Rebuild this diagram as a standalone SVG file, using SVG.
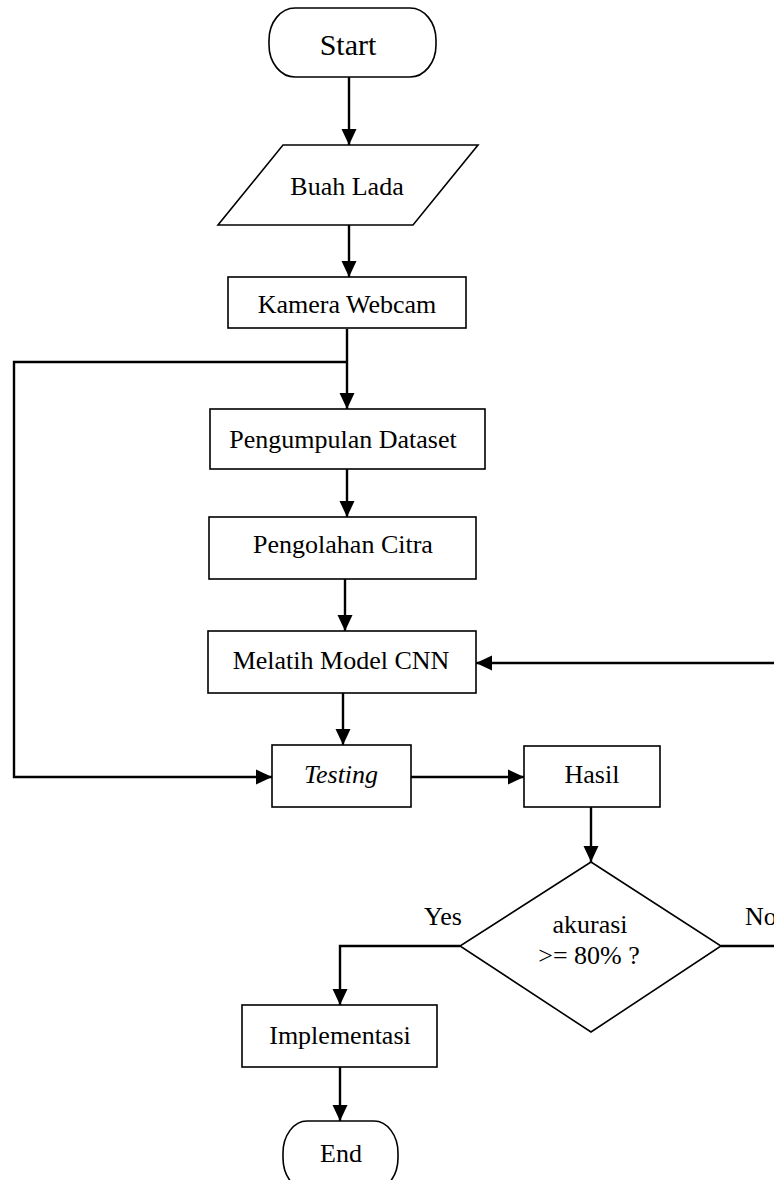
<svg xmlns="http://www.w3.org/2000/svg" width="774" height="1180" viewBox="0 0 774 1180">
  <style>
    .shape { fill: #ffffff; stroke: #000000; stroke-width: 1.6; }
    .wire { fill: none; stroke: #000000; stroke-width: 2.4; }
    .lbl { font-family: "Liberation Serif", "Times New Roman", serif; font-size: 26px; fill: #000000; text-anchor: middle; }
  </style>
  <defs>
    <marker id="head" markerUnits="userSpaceOnUse" markerWidth="16" markerHeight="16" refX="16" refY="8" orient="auto">
      <path d="M0,0.5 L16,8 L0,15.5 z" fill="#000000"/>
    </marker>
  </defs>

  <rect width="774" height="1180" fill="#ffffff"/>

  <!-- connectors -->
  <g id="connectors">
    <path class="wire" d="M349,77 V145" marker-end="url(#head)"/>
    <path class="wire" d="M349,225 V277" marker-end="url(#head)"/>
    <path class="wire" d="M347,329 V409" marker-end="url(#head)"/>
    <path class="wire" d="M347,362 H14 V777 H272" marker-end="url(#head)"/>
    <path class="wire" d="M347,469 V517" marker-end="url(#head)"/>
    <path class="wire" d="M345,579 V631" marker-end="url(#head)"/>
    <path class="wire" d="M343,693 V745" marker-end="url(#head)"/>
    <path class="wire" d="M411,777 H524" marker-end="url(#head)"/>
    <path class="wire" d="M591,807 V862" marker-end="url(#head)"/>
    <path class="wire" d="M460,946 H340 V1005" marker-end="url(#head)"/>
    <path class="wire" d="M340,1067 V1121" marker-end="url(#head)"/>
    <path class="wire" d="M721,946 H790"/>
    <path class="wire" d="M790,663 H476" marker-end="url(#head)"/>
  </g>

  <g id="start">
    <rect class="shape" x="269" y="8" width="167" height="69" rx="26" ry="32"/>
    <text class="lbl" x="348" y="55" style="font-size:30px">Start</text>
  </g>

  <g id="buah-lada">
    <polygon class="shape" points="283,145 478,145 413,225 218,225"/>
    <text class="lbl" x="347" y="195">Buah Lada</text>
  </g>

  <g id="kamera-webcam">
    <rect class="shape" x="228" y="277" width="238" height="51"/>
    <text class="lbl" x="347" y="313">Kamera Webcam</text>
  </g>

  <g id="pengumpulan-dataset">
    <rect class="shape" x="210" y="409" width="275" height="60"/>
    <text class="lbl" x="343" y="448">Pengumpulan Dataset</text>
  </g>

  <g id="pengolahan-citra">
    <rect class="shape" x="209" y="517" width="267" height="62"/>
    <text class="lbl" x="343" y="553">Pengolahan Citra</text>
  </g>

  <g id="melatih-model">
    <rect class="shape" x="208" y="631" width="268" height="62"/>
    <text class="lbl" x="341" y="669">Melatih Model CNN</text>
  </g>

  <g id="testing">
    <rect class="shape" x="272" y="745" width="139" height="62"/>
    <text class="lbl" x="341" y="783" style="font-style:italic">Testing</text>
  </g>

  <g id="hasil">
    <rect class="shape" x="524" y="746" width="136" height="61"/>
    <text class="lbl" x="592" y="783">Hasil</text>
  </g>

  <g id="akurasi">
    <polygon class="shape" points="591,862 721,946 591,1032 460,946"/>
    <text class="lbl" x="590" y="933">akurasi</text>
    <text class="lbl" x="589" y="964">&gt;= 80% ?</text>
  </g>

  <g id="labels">
    <text class="lbl" x="443" y="925">Yes</text>
    <text class="lbl" x="745" y="925" style="text-anchor:start">No</text>
  </g>

  <g id="implementasi">
    <rect class="shape" x="242" y="1005" width="195" height="62"/>
    <text class="lbl" x="340" y="1044">Implementasi</text>
  </g>

  <g id="end">
    <rect class="shape" x="283" y="1121" width="115" height="69" rx="24" ry="32"/>
    <text class="lbl" x="341" y="1162">End</text>
  </g>
</svg>
